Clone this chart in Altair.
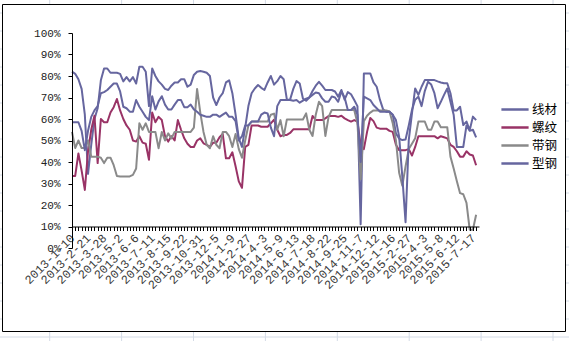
import altair as alt
import pandas as pd

# ---- data ----
tick_labels = ["2013-1-10", "2013-2-21", "2013-3-28", "2013-5-2", "2013-6-6", "2013-7-11",
               "2013-8-15", "2013-9-22", "2013-10-31", "2013-12-5", "2014-1-9", "2014-2-27",
               "2014-4-3", "2014-5-9", "2014-6-13", "2014-7-18", "2014-8-22", "2014-9-25",
               "2014-11-7", "2014-12-12", "2015-1-16", "2015-2-27", "2015-4-3", "2015-5-8",
               "2015-6-12", "2015-7-17"]

series_names = ["线材", "螺纹", "带钢", "型钢"]

xiancai = [82, 81, 78.5, 74, 62, 34.5, 48, 60, 65, 78,
           83.5, 83.5, 81.5, 81.5, 81.5, 81, 77.5, 79.5, 77.5, 79.5,
           76.5, 84.3, 84.3, 82, 66, 83.5, 80, 77.5, 76, 74,
           73.5, 75.5, 77, 77, 78.5, 78.5, 75, 76, 80.5, 82,
           82.3, 82, 81.5, 80, 70, 66.5, 70, 72, 77, 78,
           72, 62, 51, 47, 56, 66, 72, 74.2, 75.8, 74.5,
           73.5, 77, 80, 76, 77.6, 80, 78.5, 69, 69, 74,
           77.6, 76.5, 69.5, 68.5, 70, 73, 75.5, 77.3, 75.5, 73.5,
           73.5, 73.5, 72.8, 70.4, 73.5, 69, 72.5, 71.5, 68.8, 66,
           11, 81.2, 81.2, 81.2, 77, 75, 69, 64.5, 63.4, 63.4,
           62, 53.3, 50.9, 50.2, 50.5, 57, 64.2, 69, 70.4, 66,
           73, 77.3, 76, 72, 65, 68, 71.2, 74.2, 68, 62,
           47, 47, 47, 57, 54.5, 55, 51.5]

luowen = [33.5, 33.5, 44, 36, 27, 45, 55, 61.5, 39.5, 60,
          58.5, 58.5, 63, 65.5, 69.3, 64, 60, 57, 55, 50,
          49.5, 52, 49, 48.5, 41, 63, 58.5, 61, 59.5, 52,
          49.5, 52, 50, 59.5, 55, 51, 48.5, 47, 47, 50,
          51, 48.7, 48, 47, 49, 49, 51.5, 53, 41.7, 41.7,
          44.5, 38, 31, 28, 47, 48, 57, 57, 57, 56.4,
          56.4, 56.4, 58, 59.7, 55, 52, 52.6, 52.6, 53.5, 55.2,
          55.2, 55.2, 55.2, 55.2, 55.2, 61.4, 59.5, 59.5, 59.5, 60.3,
          61.4, 61.4, 61.4, 61, 61.5, 60.3, 59.5, 58.8, 59.5, 58.8,
          48, 46, 54, 60.5, 59, 56, 55.5, 55.5, 55.5, 54.5,
          54, 48, 45.5, 45.5, 45.5, 46, 43, 47, 52, 52,
          52, 52, 52, 52, 51, 52, 51.5, 51, 48, 47,
          45, 42.5, 42.5, 45, 43.5, 43, 38.5]

daigang = [54, 46.5, 50, 46.5, 46.5, 50, 42.5, 42.5, 42.5, 42,
           39.5, 42, 42, 38.5, 33.5, 33.3, 33.3, 33.3, 33.3, 34,
           37, 58, 55, 58, 54, 54, 54, 46.4, 54, 50,
           53.3, 51, 54, 54, 54, 54, 54, 54, 56, 74,
           63, 54, 48, 46.4, 52, 48, 46.4, 54, 54, 52,
           47, 53, 46, 42, 50, 57, 58.8, 58.8, 58.8, 58.8,
           58.8, 58.8, 62, 62.5, 55, 59.5, 52, 59.8, 59.8, 59.8,
           59.8, 59.8, 59.8, 62.6, 55, 52.1, 62, 68, 66, 52.1,
           61, 64.2, 64.2, 64.2, 64.2, 64.2, 64.2, 64.2, 64.2, 58,
           32, 59, 61.5, 63, 64, 64, 64, 64, 64, 63.5,
           58, 50, 35, 29, 38, 46, 48.5, 51, 58.8, 58.8,
           58.8, 55, 55, 58.8, 58.8, 56.2, 56.2, 56.2, 42.5, 37,
           31, 25.5, 25, 21, 8.5, 8.5, 15.5]

xinggang = [58.5, 58.5, 58.5, 54.5, 45.5, 54.5, 61, 64, 66, 72,
            72.5, 73.5, 75, 76.5, 76.5, 72.8, 65.7, 65, 63.4, 63.4,
            68.8, 65.7, 63.4, 61, 59.5, 70.6, 64.4, 68.2, 70.6, 66.7,
            64.4, 64.4, 66.7, 68.8, 68.8, 65.5, 65.5, 66.7, 64.5, 63.4,
            62, 61.5, 61, 61, 62, 62, 61, 62, 63, 61,
            61, 59, 50, 52, 57, 57, 58.8, 58.8, 58.8, 62,
            63, 62.6, 56, 52, 66, 68.8, 68.8, 68.8, 68.8, 68.5,
            68.8, 67.6, 68.5, 69.5, 70, 71.2, 72.3, 72, 69.6, 68,
            68, 70.5, 70, 68, 72.8, 70, 64.2, 64.2, 65.7, 62,
            40, 70.4, 69.6, 68.8, 66.5, 65, 63.4, 63.4, 63.4, 63.4,
            62, 59.5, 51.8, 33, 12, 50.2, 62.6, 74.2, 71.2, 75,
            78.1, 78.1, 78.1, 78.1, 77.5, 77, 76.6, 76.6, 72, 64,
            64, 65.7, 57.2, 58.8, 54.8, 61.1, 59.5]

colors = ["#66669F", "#993366", "#8A8A8A", "#66669F"]

rows = []
for name, vals in zip(series_names, [xiancai, luowen, daigang, xinggang]):
    for i, v in enumerate(vals):
        rows.append({"idx": i, "value": v / 100.0, "series": name})
df = pd.DataFrame(rows)
n_points = len(xiancai)

# ---- layout ----
W, H = 407, 215
PAD_L, PAD_T = 72, 33

label_js = "[" + ",".join("'" + d + "'" for d in tick_labels) + "]"

x_axis = alt.Axis(
    values=list(range(n_points)),
    labelExpr="datum.value % 5 == 0 ? " + label_js + "[datum.value / 5] : ''",
    labelAngle=-45, labelAlign="right", labelBaseline="middle",
    labelFont="Liberation Mono", labelFontSize=12, labelColor="#3a3a3a",
    labelOverlap=False, labelFlush=False, labelPadding=5,
    tickColor="black", tickSize=4, domainColor="black", domainWidth=1,
    offset=-21.5, grid=False, title=None, zindex=2,
)
y_axis = alt.Axis(
    values=[i / 10 for i in range(11)], format=".0%",
    labelFont="Liberation Mono", labelFontSize=11, labelColor="#222222",
    labelPadding=8, tickColor="black", tickSize=4, domainColor="black",
    grid=False, title=None, zindex=2,
)

# spreadsheet cell grid visible around the chart area (decoration)
grid_v = pd.DataFrame({"gx": [49.7 + 71.9 * k - PAD_L for k in range(8)]})
grid_h = pd.DataFrame({"gy": [13 + 18 * k - PAD_T for k in range(19)]})

vlines = alt.Chart(grid_v).mark_rule(color="#D4DBE6", strokeWidth=1).encode(
    x=alt.X("gx:Q", scale=None, axis=None),
    y=alt.value(-PAD_T), y2=alt.value(341 - PAD_T),
)
hlines = alt.Chart(grid_h).mark_rule(color="#D4DBE6", strokeWidth=1).encode(
    y=alt.Y("gy:Q", scale=None, axis=None),
    x=alt.value(-PAD_L), x2=alt.value(569 - PAD_L),
)

frame = alt.Chart(pd.DataFrame({"a": [0]})).mark_rect(
    fill="white", stroke="black", strokeWidth=1
).encode(
    x=alt.value(-69.5), x2=alt.value(493.5),
    y=alt.value(-28.5), y2=alt.value(298.5),
)

lines = alt.Chart(df).mark_line(strokeWidth=2, strokeJoin="round").encode(
    x=alt.X("idx:Q", scale=alt.Scale(domain=[0, 126.9], nice=False, zero=False), axis=x_axis),
    y=alt.Y("value:Q", scale=alt.Scale(domain=[0, 1], nice=False), axis=y_axis),
    color=alt.Color(
        "series:N",
        scale=alt.Scale(domain=series_names, range=colors),
        sort=series_names,
        legend=alt.Legend(
            title=None, orient="none", legendX=433.5, legendY=67,
            symbolType="M-1.7,0H1.7", symbolSize=256, symbolStrokeWidth=2.5,
            labelFont="Noto Sans CJK SC", labelFontSize=12.5, labelColor="black",
            labelOffset=7.5, padding=0, rowPadding=2,
        ),
    ),
    detail="series:N",
)

chart = alt.layer(vlines, hlines, frame, lines).resolve_scale(
    x="independent", y="independent"
).resolve_axis(
    x="independent", y="independent"
).properties(
    width=W, height=H,
    padding={"left": PAD_L, "top": PAD_T, "right": 569 - PAD_L - W, "bottom": 341 - PAD_T - H},
    autosize=alt.AutoSizeParams(type="none"),
    background="white",
).configure_view(stroke=None)

chart.save("out.html", embed_options={"renderer": "svg", "actions": False})
